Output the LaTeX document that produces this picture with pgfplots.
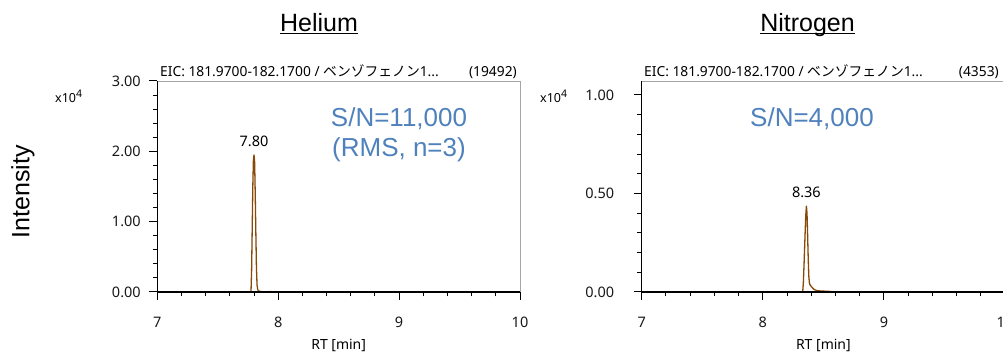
\documentclass[border=0pt]{standalone}
\usepackage{fontspec}
\setmainfont{Noto Sans}
\newfontfamily\arial{Liberation Sans}
\newfontfamily\cjk{Noto Sans CJK JP}
\usepackage{pgfplots}
\pgfplotsset{compat=1.18}

\definecolor{trace}{RGB}{135,72,8}
\definecolor{snblue}{RGB}{79,129,189}
\definecolor{framegray}{RGB}{165,165,165}

\pgfplotstableread{
x y
7.00 0
7.50 0
7.77 0
7.775 0.005
7.78 0.30
7.785 0.90
7.79 1.50
7.795 1.88
7.80 1.9492
7.805 1.85
7.81 1.40
7.815 0.85
7.82 0.35
7.825 0.10
7.83 0.04
7.835 0.02
7.845 0.010
7.86 0.006
7.88 0.003
7.90 0.002
7.92 0.006
7.93 0.003
7.94 0.006
7.95 0.002
7.98 0.001
8.10 0
9.00 0
10.00 0
}\helium

\pgfplotstableread{
x y
7.00 0
8.00 0
8.325 0
8.33 0.004
8.335 0.05
8.34 0.13
8.345 0.22
8.35 0.31
8.355 0.39
8.36 0.4353
8.365 0.40
8.37 0.29
8.375 0.17
8.38 0.08
8.385 0.045
8.39 0.036
8.395 0.033
8.40 0.028
8.41 0.021
8.42 0.015
8.43 0.011
8.45 0.007
8.48 0.005
8.52 0.004
8.55 0.003
8.58 0.001
8.62 0
9.00 0
10.00 0
}\nitrogen

\pgfplotsset{chrom/.style={
  scale only axis, height=211pt, axis on top,
  axis lines=left, axis line style={-, black, line width=1.3pt},
  xmin=7, xmax=10, xtick={7,8,9,10}, minor x tick num=4,
  ymin=0,
  tick align=outside, major tick length=8pt, minor tick length=4.5pt,
  every tick/.style={black, line width=1pt},
  tick label style={font=\fontsize{14.5}{16}\selectfont, text=black!90},
  /pgf/number format/assume math mode=true,
  xticklabel style={anchor=center, yshift=-22pt},
  yticklabel style={anchor=east},
  yticklabel={\pgfmathprintnumber[fixed, fixed zerofill, precision=2]{\tick}},
  scaled y ticks=false,
  xlabel={RT [min]},
  xlabel style={font=\fontsize{14}{16}\selectfont, at={(axis description cs:0.5,0)}, anchor=center, yshift=-53pt},
  clip=false,
}}

\begin{document}
\begin{tikzpicture}
% Helium panel
\begin{axis}[chrom, at={(157.3pt,60pt)}, anchor=south west, width=362.7pt,
  ymax=3, ytick={0,1,2,3}, minor y tick num=4,
  yticklabel style={xshift=-5pt}]
  \addplot[trace, line width=1.3pt, line join=round] table[x=x,y=y] {\helium};
  \draw[framegray, line width=0.9pt] (rel axis cs:0,1) -- (rel axis cs:1,1) -- (rel axis cs:1,0);
  \node[anchor=south, inner sep=0pt, yshift=8pt, font=\fontsize{14.5}{16}\selectfont] at (axis cs:7.80,1.9492) {7.80};
\end{axis}
% Nitrogen panel
\begin{axis}[chrom, at={(641.7pt,60pt)}, anchor=south west, width=363.3pt,
  ymax=1.0706, ytick={0,0.5,1}, minor y tick num=4,
  yticklabel style={xshift=-16pt}]
  \addplot[trace, line width=1.3pt, line join=round] table[x=x,y=y] {\nitrogen};
  \draw[framegray, line width=0.9pt] (rel axis cs:0,1) -- (rel axis cs:1,1) -- (rel axis cs:1,0);
  \node[anchor=south, inner sep=0pt, yshift=8pt, font=\fontsize{14.5}{16}\selectfont] at (axis cs:8.36,0.4353) {8.36};
\end{axis}

% EIC headers
\node[anchor=base west, inner sep=0pt, font=\fontsize{13.8}{15}\selectfont] at (160pt,275pt) {EIC: 181.9700-182.1700 / {\cjk ベンゾフェノン}1...};
\node[anchor=base east, inner sep=0pt, font=\fontsize{13.8}{15}\selectfont] at (517pt,275pt) {(19492)};
\node[anchor=base west, inner sep=0pt, font=\fontsize{13.8}{15}\selectfont] at (644pt,275pt) {EIC: 181.9700-182.1700 / {\cjk ベンゾフェノン}1...};
\node[anchor=base east, inner sep=0pt, font=\fontsize{13.8}{15}\selectfont] at (999pt,275pt) {(4353)};

% x10^4
\node[anchor=base west, inner sep=0pt, font=\fontsize{12.5}{14}\selectfont] at (55pt,249pt) {x10\raisebox{5pt}{\fontsize{10.5}{10}\selectfont 4}};
\node[anchor=base west, inner sep=0pt, font=\fontsize{12.5}{14}\selectfont] at (540pt,249pt) {x10\raisebox{5pt}{\fontsize{10.5}{10}\selectfont 4}};

% Titles
\node[anchor=base, inner sep=0pt, font=\arial\fontsize{25}{28}\selectfont] (he) at (319pt,320.3pt) {Helium};
\draw[line width=1.5pt] ([yshift=-1.8pt]he.base west) -- ([yshift=-1.8pt]he.base east);
\node[anchor=base, inner sep=0pt, font=\arial\fontsize{25}{28}\selectfont] (ni) at (807.5pt,320.3pt) {Nitrogen};
\draw[line width=1.5pt] ([yshift=-1.8pt]ni.base west) -- ([yshift=-1.8pt]ni.base east);

% Y label
\node[rotate=90, font=\arial\fontsize{25}{28}\selectfont] at (23pt,160pt) {Intensity};

% S/N annotations
\node[anchor=base, inner sep=0pt, text=snblue, font=\arial\fontsize{26}{30}\selectfont] at (399pt,225pt) {S/N=11,000};
\node[anchor=base, inner sep=0pt, text=snblue, font=\arial\fontsize{26}{30}\selectfont] at (399pt,195pt) {(RMS, n=3)};
\node[anchor=base, inner sep=0pt, text=snblue, font=\arial\fontsize{26}{30}\selectfont] at (812pt,225pt) {S/N=4,000};

\pgfresetboundingbox
\path[use as bounding box] (0pt,0pt) rectangle (1003pt,352pt);
\end{tikzpicture}
\end{document}
